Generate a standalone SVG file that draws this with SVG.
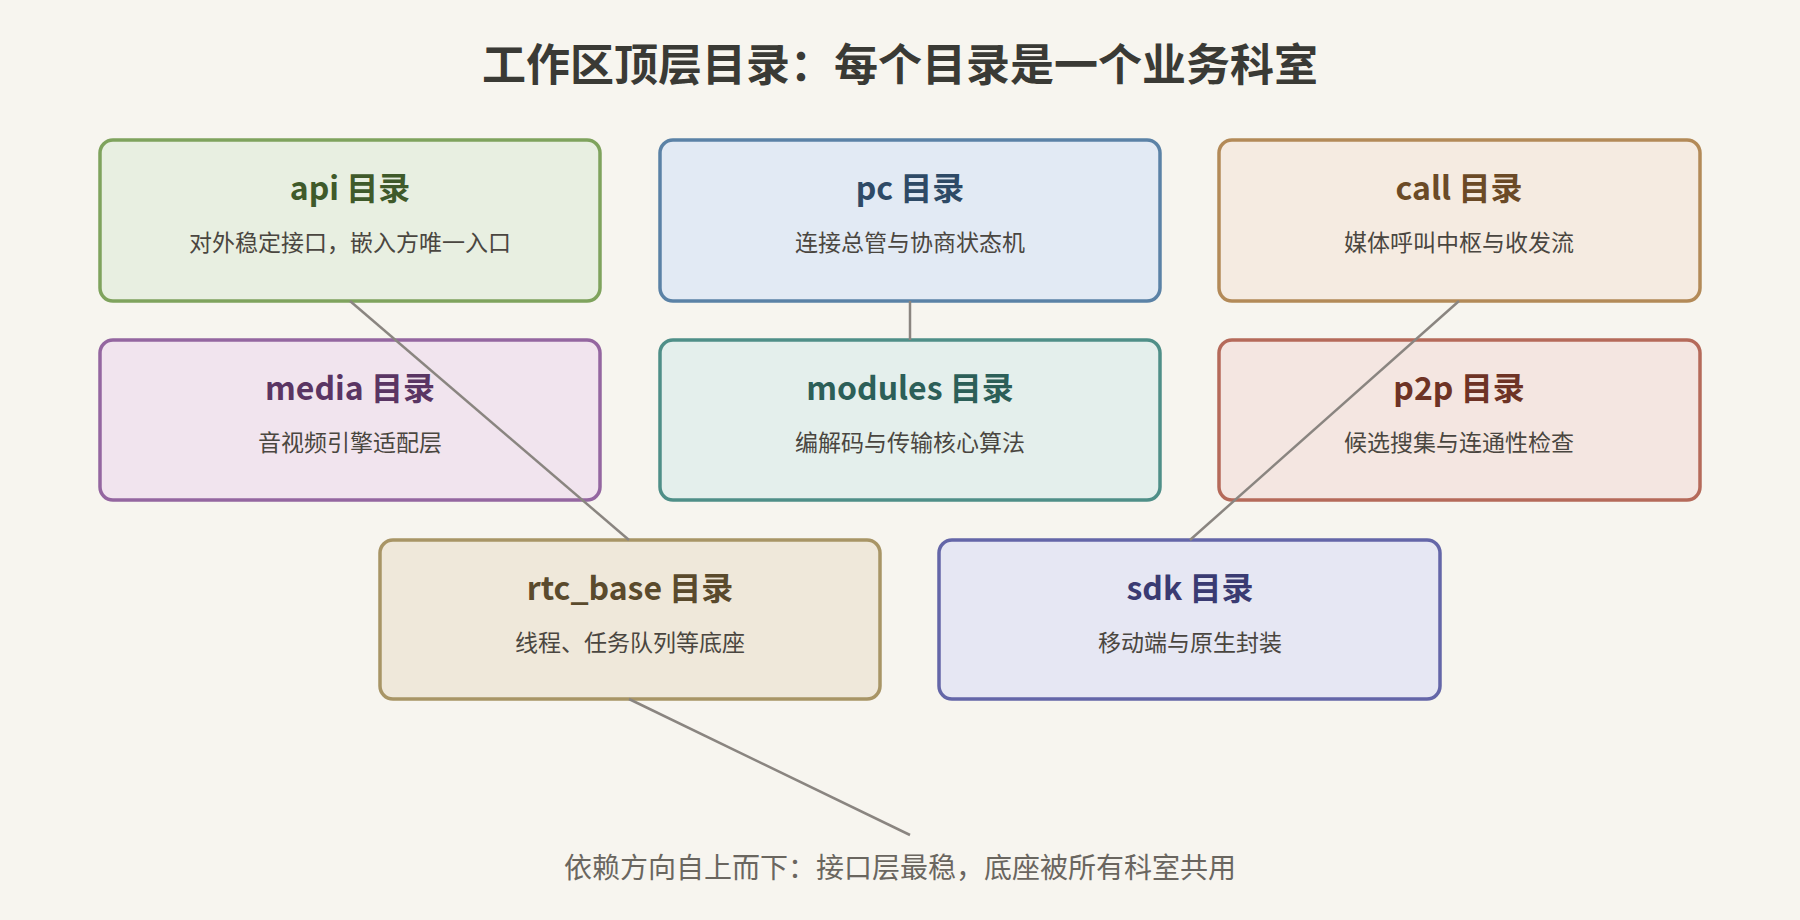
<svg xmlns="http://www.w3.org/2000/svg" width="1800" height="920" viewBox="0 0 1800 920">
<style>
.t{font-family:"Noto Sans CJK SC","Noto Sans",sans-serif;text-anchor:middle}
.h{font-size:32px;font-weight:bold}
.s{font-size:23px;fill:#4a4640}
.b{stroke-width:3.5}
.c{stroke:#8a8580;stroke-width:2.5;fill:none}
</style>
<rect width="1800" height="920" fill="#f7f5ef"/>
<text class="t" x="900" y="81" font-size="44" font-weight="bold" fill="#3a3a35">工作区顶层目录：每个目录是一个业务科室</text>
<g id="api"><rect class="b" x="100" y="140" width="500" height="161" rx="13" fill="#e8efe1" stroke="#7fa35d"/><text class="t h" x="350" y="200" fill="#3f5a2a">api 目录</text><text class="t s" x="350" y="251">对外稳定接口，嵌入方唯一入口</text></g>
<g id="pc"><rect class="b" x="660" y="140" width="500" height="161" rx="13" fill="#e2eaf4" stroke="#5b82a6"/><text class="t h" x="910" y="200" fill="#2e4a66">pc 目录</text><text class="t s" x="910" y="251">连接总管与协商状态机</text></g>
<g id="call"><rect class="b" x="1219" y="140" width="481" height="161" rx="13" fill="#f5ebe1" stroke="#b38a58"/><text class="t h" x="1459" y="200" fill="#6b4a26">call 目录</text><text class="t s" x="1459" y="251">媒体呼叫中枢与收发流</text></g>
<g id="media"><rect class="b" x="100" y="340" width="500" height="160" rx="13" fill="#f1e4ee" stroke="#9466a0"/><text class="t h" x="350" y="400" fill="#5a3563">media 目录</text><text class="t s" x="350" y="451">音视频引擎适配层</text></g>
<g id="modules"><rect class="b" x="660" y="340" width="500" height="160" rx="13" fill="#e4efec" stroke="#4f8f88"/><text class="t h" x="910" y="400" fill="#2c5f58">modules 目录</text><text class="t s" x="910" y="451">编解码与传输核心算法</text></g>
<g id="p2p"><rect class="b" x="1219" y="340" width="481" height="160" rx="13" fill="#f4e6e1" stroke="#b56a5a"/><text class="t h" x="1459" y="400" fill="#6e3325">p2p 目录</text><text class="t s" x="1459" y="451">候选搜集与连通性检查</text></g>
<g id="rtc_base"><rect class="b" x="380" y="540" width="500" height="159" rx="13" fill="#efe8da" stroke="#a89566"/><text class="t h" x="630" y="600" fill="#5a4a2c">rtc_base 目录</text><text class="t s" x="630" y="651">线程、任务队列等底座</text></g>
<g id="sdk"><rect class="b" x="939" y="540" width="501" height="159" rx="13" fill="#e6e7f3" stroke="#6466a8"/><text class="t h" x="1190" y="600" fill="#3a3b72">sdk 目录</text><text class="t s" x="1190" y="651">移动端与原生封装</text></g>
<g id="connectors">
<line class="c" x1="350" y1="301" x2="629" y2="540"/>
<line class="c" x1="910" y1="301" x2="910" y2="340"/>
<line class="c" x1="1459" y1="301" x2="1190" y2="540"/>
<line class="c" x1="629" y1="699" x2="910" y2="835"/>
</g>
<text class="t" x="900" y="878" font-size="28" fill="#6a665f">依赖方向自上而下：接口层最稳，底座被所有科室共用</text>
</svg>
